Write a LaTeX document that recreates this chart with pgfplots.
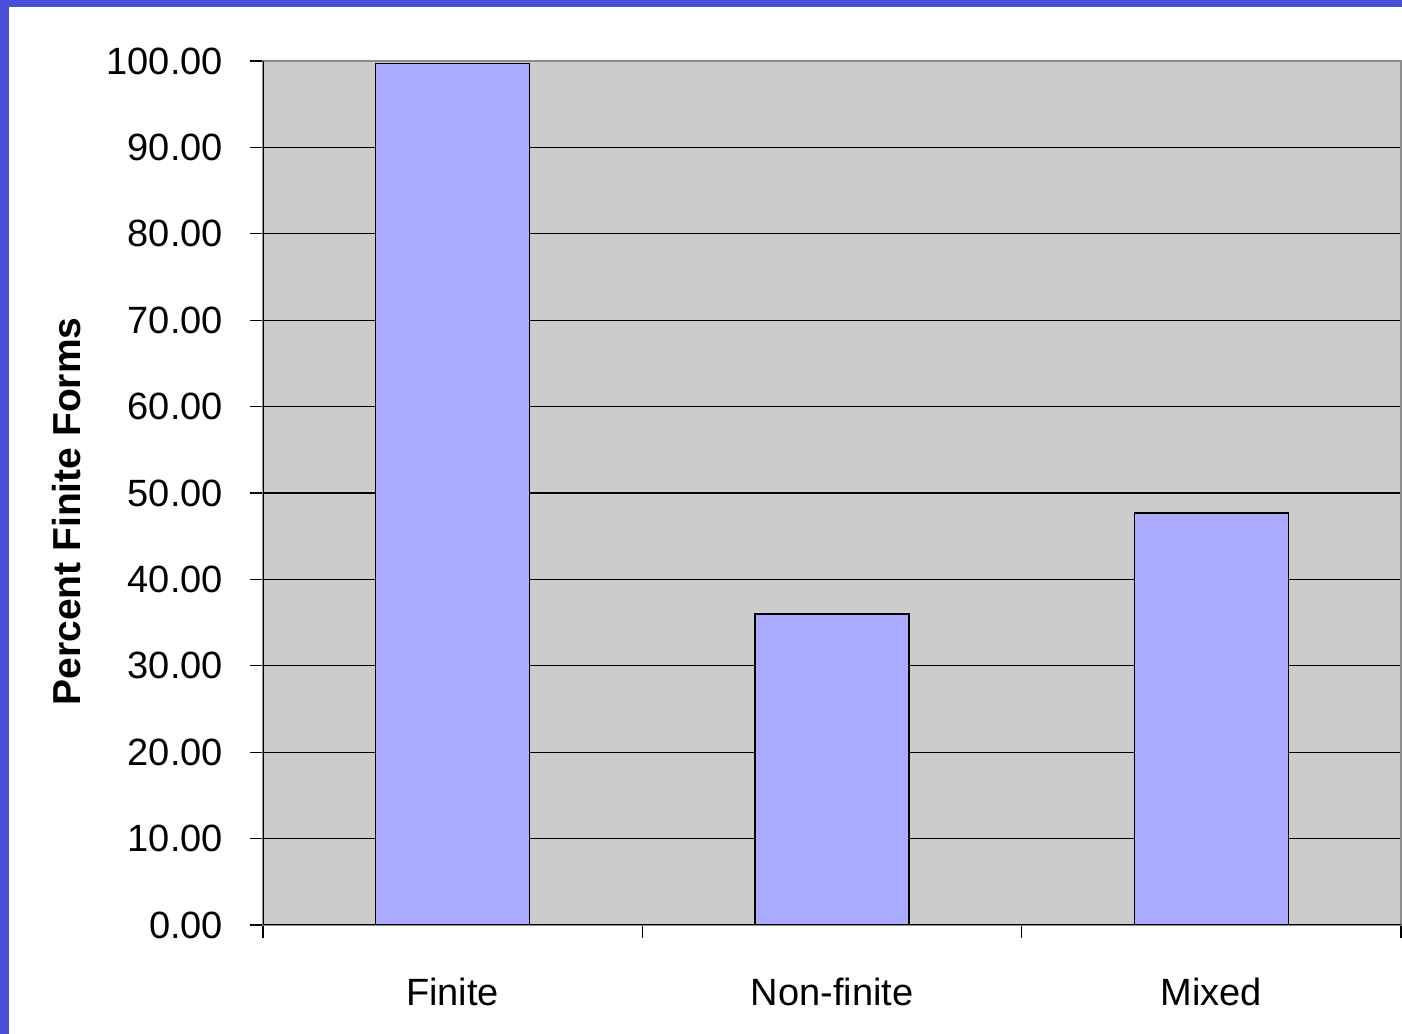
\documentclass[border=0pt]{standalone}
\usepackage{fontspec}
\setmainfont{Liberation Sans}
\usepackage{pgfplots}
\pgfplotsset{compat=1.18}
\definecolor{frameblue}{RGB}{70,79,214}
\definecolor{plotgray}{RGB}{204,204,204}
\definecolor{barblue}{RGB}{170,170,255}
\definecolor{bordergray}{RGB}{140,140,140}

\begin{document}
\begin{tikzpicture}
\useasboundingbox (0,0) rectangle (701bp,517bp);
% slide frame: blue strip on the top and left
\fill[frameblue] (0,0) rectangle (701bp,517bp);
\fill[white] (4.5bp,0) rectangle (701bp,513.5bp);
\begin{axis}[
  at={(131.5bp,54.5bp)}, anchor=south west,
  scale only axis, width=569bp, height=432bp,
  xmin=-0.5, xmax=2.5, ymin=0, ymax=100,
  axis background/.style={fill=plotgray},
  axis line style={bordergray, line width=1bp},
  ytick={0,10,...,100},
  xtick={-0.5,0.5,1.5,2.5}, xticklabels={},
  extra x ticks={0,1,2},
  extra x tick labels={Finite,Non-finite,Mixed},
  extra x tick style={major tick length=0pt, grid=none,
    tick label style={anchor=base, yshift=-40bp}},
  tick align=outside, major tick length=6.5bp,
  xtick pos=left, ytick pos=left,
  tick style={black, line width=0.6bp},
  ymajorgrids, grid style={black, line width=0.6bp},
  tick label style={font=\fontsize{19bp}{21bp}\selectfont},
  yticklabel style={anchor=east, xshift=-10bp,
    /pgf/number format/fixed, /pgf/number format/zerofill,
    /pgf/number format/precision=2, /pgf/number format/assume math mode=true},
  ylabel={Percent Finite Forms},
  every axis y label/.style={at={(rel axis cs:-0.1722,0.4786)}, anchor=center, rotate=90,
    font=\fontsize{19.5bp}{22bp}\selectfont\bfseries},
]
\addplot[ybar, bar width=0.406, fill=barblue, draw=black, line width=0.75bp]
  coordinates {(0,99.7) (1,36.0) (2,47.7)};
\draw[black, line width=1bp] (rel axis cs:0,1) -- (rel axis cs:0,0) -- (rel axis cs:1,0);
\end{axis}
\end{tikzpicture}
\end{document}
